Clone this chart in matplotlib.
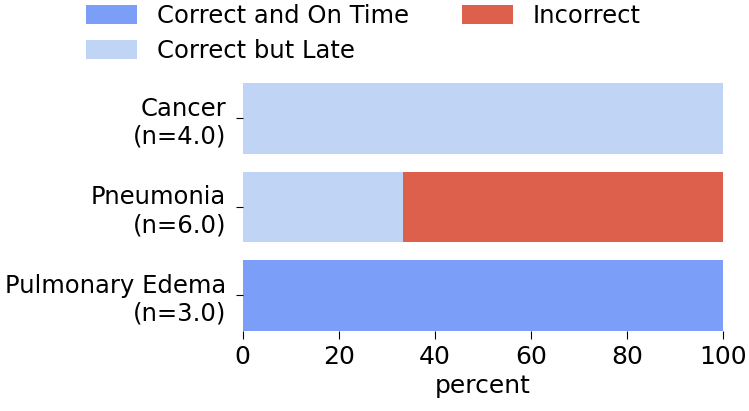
import numpy as np
import matplotlib
matplotlib.use('Agg')
import matplotlib.pyplot as plt

categories = ['Cancer\n(n=4.0)', 'Pneumonia\n(n=6.0)', 'Pulmonary Edema\n(n=3.0)']
on_time = [0.0, 0.0, 100.0]
late = [100.0, 33.33, 0.0]
incorrect = [0.0, 66.67, 0.0]

series = ['Correct and On Time', 'Correct but Late', 'Incorrect']
colors = ['#7b9ff9', '#c0d4f5', '#dd604c']

plt.rcParams['font.family'] = 'DejaVu Sans'
plt.rcParams['font.size'] = 18

fig, ax = plt.subplots(figsize=(7.49, 4.11), dpi=100)
fig.subplots_adjust(left=0.324, right=0.965, top=0.798, bottom=0.195)

y = np.arange(len(categories))[::-1]
left = np.zeros(len(categories))
for name, vals, c in zip(series, [on_time, late, incorrect], colors):
    ax.barh(y, vals, left=left, height=0.8, color=c, label=name)
    left += np.array(vals)

ax.set_yticks(y)
ax.set_yticklabels(categories, fontsize=17.5)
ax.set_ylim(-0.4, 2.4)
ax.set_xlim(0, 100)
ax.set_xticks([0, 20, 40, 60, 80, 100])
ax.set_xlabel('percent', labelpad=4)
for s in ax.spines.values():
    s.set_visible(False)
ax.tick_params(axis='y', length=5, pad=7)
ax.tick_params(axis='x', length=6, pad=4)

fig.legend(loc='upper left', bbox_to_anchor=(84 / 749, 0.996), ncol=2, frameon=False,
           borderpad=0.1, borderaxespad=0, handlelength=2.1, handleheight=0.78,
           handletextpad=0.8, columnspacing=2.2, labelspacing=0.45, fontsize=17.5)

fig.savefig('out.png', dpi=100)
